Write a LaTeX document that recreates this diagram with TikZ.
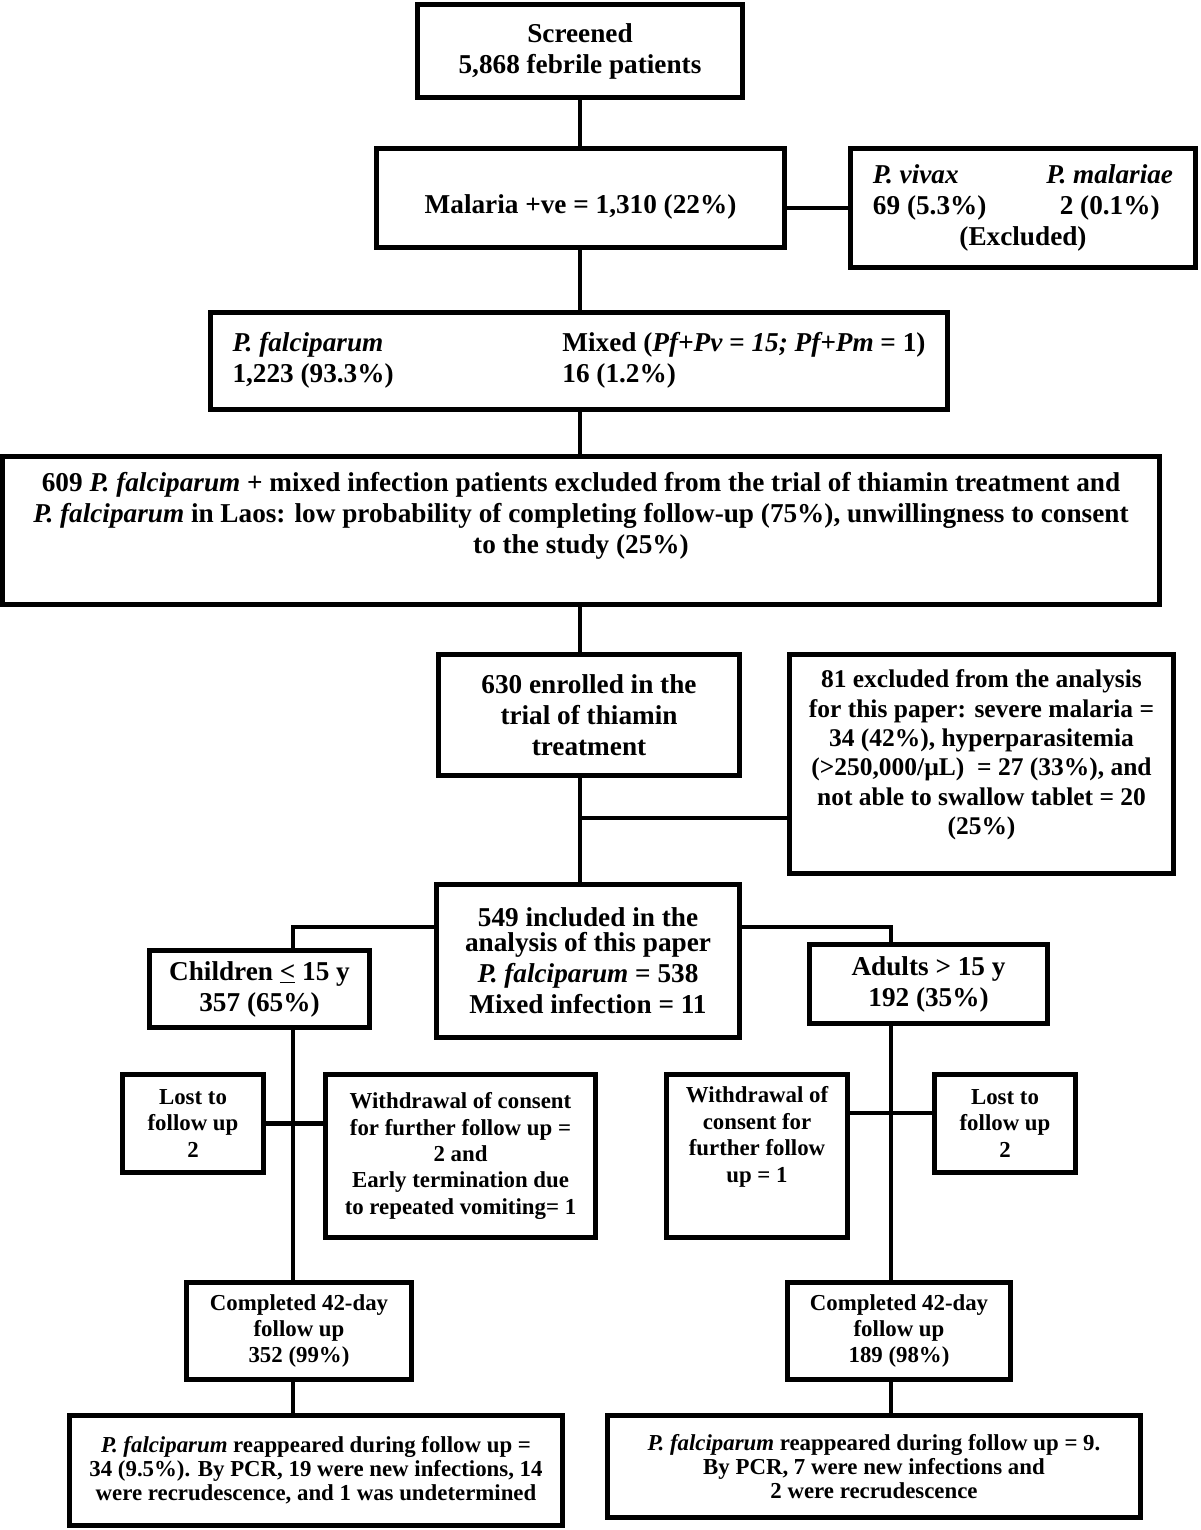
\documentclass[tikz,border=0pt]{standalone}
\usepackage{fontspec}
\setmainfont{Liberation Serif}

\tikzset{
	box/.style={draw, line width=2.8pt, inner sep=0pt, align=center},
	boxsize/.style 2 args={minimum width=#1*0.02cm, minimum height=#2*0.02cm},
	link/.style={line width=2.8pt},
	bigtxt/.style={font=\fontsize{15.5}{17.6}\selectfont\bfseries},
	midtxt/.style={font=\fontsize{14.5}{16.7}\selectfont\bfseries},
	smalltxt/.style={font=\fontsize{13}{15}\selectfont\bfseries},
	tighttxt/.style={font=\fontsize{13}{13.6}\selectfont\bfseries}
}

\begin{document}
\begin{tikzpicture}[x=0.02cm, y=-0.02cm]
		%%%%% START %%%%%
		\useasboundingbox (0,0) rectangle (1200,1530);
		
		\node[box, bigtxt, boxsize={325}{93}] (scr) at (580,51) {Screened\\5,868 febrile patients};
		\node[box, bigtxt, boxsize={408}{99}, text height=21pt] (mal) at (580.5,198) {Malaria +ve = 1,310 (22\%)};
		\node[box, bigtxt, boxsize={345}{119}] (vix) at (1023,208) {\begin{tabular}{@{}l@{\hspace{1.2cm}}c@{}}
			\textit{P. vivax} & \textit{P. malariae}\\
			69 (5.3\%) & 2 (0.1\%)\\
			\multicolumn{2}{c}{(Excluded)}
		\end{tabular}};
		\node[box, bigtxt, boxsize={737}{97}] (pfm) at (579,361) {\begin{tabular}{@{}p{6.6cm}@{}l@{}}
			\textit{P. falciparum} & Mixed (\textit{Pf+Pv = 15; Pf+Pm} = 1)\\
			1,223 (93.3\%) & 16 (1.2\%)
		\end{tabular}};
		
		\node[box, bigtxt, boxsize={1157}{148}, text depth=20.5pt] (exc) at (581,530.5) {609 \textit{P. falciparum} + mixed infection patients excluded from the trial of thiamin treatment and\\
			\textit{P. falciparum} in Laos: low probability of completing follow-up (75\%), unwillingness to consent\\
			to the study (25\%)};
		
		\node[box, bigtxt, boxsize={301}{121}] (enr) at (589,715) {630 enrolled in the\\trial of thiamin\\treatment};
		\node[box, midtxt, boxsize={384}{219}, text depth=13.5pt] (ana) at (981.5,764) {81 excluded from the analysis\\
			for this paper: severe malaria =\\
			34 (42\%), hyperparasitemia\\
			(>250,000/µL)~ = 27 (33\%), and\\
			not able to swallow tablet = 20\\
			(25\%)};
		
		\node[box, bigtxt, boxsize={303}{153}] (inc) at (588,961) {549 included in the\\[-0.12cm]analysis of this paper\\\textit{P. falciparum} = 538\\Mixed infection = 11};
		\node[box, bigtxt, boxsize={220}{77}] (kid) at (259.5,989) {Children \underline{<} 15 y\\357 (65\%)};
		\node[box, bigtxt, boxsize={238}{79}] (adu) at (928.5,984) {Adults > 15 y\\192 (35\%)};
		
		\node[box, smalltxt, boxsize={141}{98}] (losl) at (193,1123.5) {Lost to\\follow up\\2};
		\node[box, smalltxt, boxsize={270}{163}] (wdl) at (460.5,1156) {Withdrawal of consent\\for further follow up =\\2 and\\Early termination due\\to repeated vomiting= 1};
		\node[box, smalltxt, boxsize={181}{163}, text depth=24.5pt] (wdr) at (757,1156) {Withdrawal of\\consent for\\further follow\\up = 1};
		\node[box, smalltxt, boxsize={141}{98}] (losr) at (1005,1123.5) {Lost to\\follow up\\2};
		
		\node[box, smalltxt, boxsize={225}{97}] (cpl) at (299,1331) {Completed 42-day\\follow up\\352 (99\%)};
		\node[box, smalltxt, boxsize={223}{97}] (cpr) at (899,1331) {Completed 42-day\\follow up\\189 (98\%)};
		
		\node[box, tighttxt, boxsize={493}{110}] (pfl) at (316,1470.5) {\textit{P. falciparum} reappeared during follow up =\\34 (9.5\%). By PCR, 19 were new infections, 14\\were recrudescence, and 1 was undetermined};
		\node[box, tighttxt, boxsize={533}{102}] (pfr) at (874,1466.5) {\textit{P. falciparum} reappeared during follow up = 9.\\By PCR, 7 were new infections and\\2 were recrudescence};
		
		% connectors
		\coordinate (spine) at (580,0);
		\coordinate (to81) at (580,818);
		\coordinate (split) at (0,927);
		\coordinate (lx) at (293,0);
		\coordinate (rx) at (891,0);
		
		\draw[link] (spine |- scr.south) -- (spine |- mal.north);
		\draw[link] (mal.east |- vix.west) -- (vix.west);
		\draw[link] (spine |- mal.south) -- (spine |- pfm.north);
		\draw[link] (spine |- pfm.south) -- (spine |- exc.north);
		\draw[link] (spine |- exc.south) -- (spine |- enr.north);
		\draw[link] (spine |- enr.south) -- (spine |- inc.north);
		\draw[link] (to81) -- (to81 -| ana.west);
		
		\draw[link] (inc.west |- split) -- (lx |- split) -- (lx |- kid.north);
		\draw[link] (inc.east |- split) -- (rx |- split) -- (rx |- adu.north);
		\draw[link] (lx |- kid.south) -- (lx |- cpl.north);
		\draw[link] (rx |- adu.south) -- (rx |- cpr.north);
		\draw[link] (losl.east) -- (losl.east -| wdl.west);
		\draw[link] (wdr.east |- 0,1113) -- (losr.west |- 0,1113);
		\draw[link] (lx |- cpl.south) -- (lx |- pfl.north);
		\draw[link] (rx |- cpr.south) -- (rx |- pfr.north);
		
		%%%%% END %%%%%
\end{tikzpicture}
\end{document}
